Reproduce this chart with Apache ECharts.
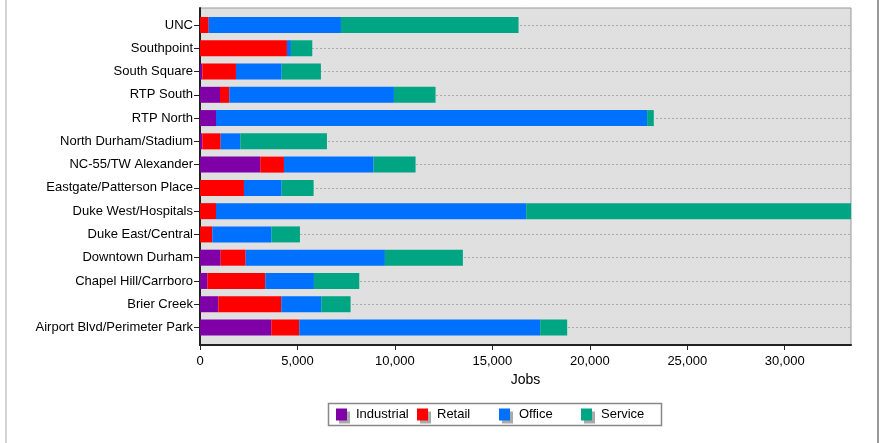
<!DOCTYPE html>
<html>
<head>
<meta charset="utf-8">
<script src="https://cdn.jsdelivr.net/npm/echarts@6/dist/echarts.min.js"></script>
<style>
  html, body { margin: 0; padding: 0; background: #fff; }
  #chart { width: 887px; height: 443px; }
</style>
</head>
<body>
<div id="chart"></div>
<script>
// top-down order of the districts
const districts = [
    'UNC', 'Southpoint', 'South Square', 'RTP South', 'RTP North',
    'North Durham/Stadium', 'NC-55/TW Alexander', 'Eastgate/Patterson Place',
    'Duke West/Hospitals', 'Duke East/Central', 'Downtown Durham',
    'Chapel Hill/Carrboro', 'Brier Creek', 'Airport Blvd/Perimeter Park'
];
const industrial = [0, 0, 120, 1026, 820, 120, 3094, 0, 0, 0, 1060, 376, 940, 3658];
const retail = [445, 4460, 1726, 478, 0, 940, 1214, 2256, 820, 632, 1282, 2974, 3231, 1436];
const office = [6786, 205, 2342, 8445, 22120, 1008, 4598, 1932, 15915, 3026, 7145, 2496, 2051, 12359];
const service = [9112, 1095, 2017, 2136, 342, 4445, 2154, 1641, 16665, 1470, 4000, 2325, 1504, 1385];
const sectors = ['Industrial', 'Retail', 'Office', 'Service'];
const colors = ['#8000a8', '#ff0000', '#0070ff', '#00a683'];
const xMax = 33400;
const xStep = 5000;

const font = "'Liberation Sans', Arial, sans-serif";
const myChart = echarts.init(document.getElementById('chart'));

function barSeries(name, color, data) {
    return {
        name: name,
        type: 'bar',
        stack: 'jobs',
        xAxisIndex: 1,
        yAxisIndex: 1,
        barWidth: 16,
        clip: false,
        itemStyle: { color: color },
        emphasis: { disabled: true },
        data: data
    };
}

// one legend per item so the slots keep the fixed spacing of the original
const legendLeft = [336, 417, 499, 581];
const legends = sectors.map((name, i) => ({
    left: legendLeft[i],
    top: 408,
    padding: 0,
    icon: 'rect',
    itemWidth: 11,
    itemHeight: 12,
    selectedMode: false,
    itemStyle: { shadowColor: '#aaa', shadowOffsetX: 3, shadowOffsetY: 3, shadowBlur: 0 },
    textStyle: { color: '#000', fontSize: 13, fontFamily: font, padding: [0, 0, 0, 4] },
    data: [name]
}));

const option = {
    animation: false,
    textStyle: { fontFamily: font },
    graphic: [
        { type: 'line', shape: { x1: 6, y1: 0, x2: 6, y2: 443 }, style: { stroke: '#aaa', lineWidth: 1 } },
        { type: 'line', shape: { x1: 878, y1: 0, x2: 878, y2: 443 }, style: { stroke: '#999', lineWidth: 2 } },
        // legend box
        {
            type: 'rect', z: -1,
            shape: { x: 328.5, y: 403.5, width: 333, height: 22 },
            style: { fill: '#fff', stroke: '#888', lineWidth: 1.5 }
        }
    ],
    grid: [
        // plot frame
        {
            left: 200, right: 36, top: 8, bottom: 98,
            show: true,
            backgroundColor: '#e0e0e0',
            borderColor: '#999',
            borderWidth: 1
        },
        // band of the category centres
        { left: 200, right: 36, top: 25, bottom: 115.5 }
    ],
    xAxis: [
        {
            gridIndex: 0,
            type: 'value',
            min: 0,
            max: xMax,
            interval: xStep,
            name: 'Jobs',
            nameLocation: 'middle',
            nameGap: 26,
            nameTextStyle: { color: '#000', fontSize: 14, fontFamily: font },
            axisLine: { show: true, lineStyle: { color: '#222', width: 2 } },
            axisTick: { show: true, length: 5, lineStyle: { color: '#222' } },
            axisLabel: {
                color: '#000', fontSize: 13, fontFamily: font, margin: 10,
                formatter: v => v.toLocaleString('en-US'),
                showMaxLabel: false
            },
            splitLine: { show: false }
        },
        { gridIndex: 1, type: 'value', min: 0, max: xMax, show: false }
    ],
    yAxis: [
        {
            gridIndex: 0,
            type: 'value',
            min: 0,
            max: 1,
            axisLine: { show: true, lineStyle: { color: '#222', width: 2 } },
            axisTick: { show: false },
            axisLabel: { show: false },
            splitLine: { show: false }
        },
        {
            gridIndex: 1,
            type: 'category',
            inverse: true,
            boundaryGap: false,
            data: districts,
            axisLine: { show: false },
            axisTick: { show: true, length: 6, lineStyle: { color: '#222' } },
            axisLabel: { color: '#000', fontSize: 13, fontFamily: font, margin: 7 },
            splitLine: { show: true, lineStyle: { color: '#aaa', type: [2, 2], width: 1 } }
        }
    ],
    legend: legends,
    series: [
        barSeries(sectors[0], colors[0], industrial),
        barSeries(sectors[1], colors[1], retail),
        barSeries(sectors[2], colors[2], office),
        barSeries(sectors[3], colors[3], service)
    ]
};

myChart.setOption(option);
</script>
</body>
</html>
